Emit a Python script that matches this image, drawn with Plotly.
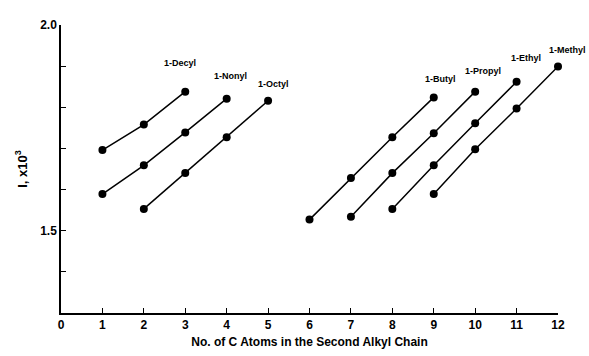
import plotly.graph_objects as go

series_names = ["1-Decyl", "1-Nonyl", "1-Octyl", "1-Butyl", "1-Propyl", "1-Ethyl", "1-Methyl"]
series_x = [
    [1, 2, 3],
    [1, 2, 3, 4],
    [2, 3, 4, 5],
    [6, 7, 8, 9],
    [7, 8, 9, 10],
    [8, 9, 10, 11],
    [9, 10, 11, 12],
]
series_y = [
    [1.696, 1.758, 1.838],
    [1.589, 1.659, 1.739, 1.821],
    [1.553, 1.640, 1.727, 1.816],
    [1.527, 1.628, 1.727, 1.824],
    [1.534, 1.640, 1.737, 1.838],
    [1.553, 1.659, 1.761, 1.862],
    [1.589, 1.698, 1.797, 1.899],
]
x_ticks = list(range(0, 13))
y_ticks = [1.5, 2.0]
y_tick_labels = ["1.5", "2.0"]
y_minor_step = 0.1

# label offsets (pixels) from each series' last point
label_shift = [(-5, 29), (4, 23), (5, 17), (7, 18), (8, 21), (9, 24), (9, 17)]

FAM = "Liberation Sans, Arial"
fig = go.Figure()
for name, xs, ys in zip(series_names, series_x, series_y):
    fig.add_trace(go.Scatter(
        x=xs, y=ys, mode="lines+markers", name=name,
        line=dict(color="black", width=1.5),
        marker=dict(color="black", size=8),
        showlegend=False, cliponaxis=False,
    ))

for name, xs, ys, (dx, dy) in zip(series_names, series_x, series_y, label_shift):
    fig.add_annotation(
        x=xs[-1], y=ys[-1], text=name, showarrow=False,
        xshift=dx, yshift=dy,
        font=dict(family=FAM, size=9, color="black", weight="bold"),
    )

font_main = dict(family=FAM, size=12, color="black", weight="bold")
tick_font = dict(family=FAM, size=12, color="black", weight="bold")
fig.update_layout(
    width=589, height=356,
    margin=dict(l=61, r=31, t=25, b=43),
    plot_bgcolor="white", paper_bgcolor="white",
    font=font_main,
    xaxis=dict(
        range=[0, 12], tickvals=x_ticks, ticktext=[str(v) for v in x_ticks],
        ticks="inside", ticklen=5, tickcolor="black", tickwidth=1,
        showline=True, linecolor="black", linewidth=1.5,
        showgrid=False, zeroline=False, automargin=False,
        title=dict(text="No. of C Atoms in the Second Alkyl Chain", font=font_main, standoff=6),
        tickfont=tick_font,
    ),
    yaxis=dict(
        range=[1.3, 2.0], tickvals=y_ticks, ticktext=y_tick_labels,
        ticks="inside", ticklen=5, tickcolor="black", tickwidth=1,
        minor=dict(tick0=1.5, dtick=y_minor_step, ticks="inside", ticklen=5,
                   tickcolor="black", tickwidth=1, showgrid=False),
        showline=True, linecolor="black", linewidth=1.5,
        showgrid=False, zeroline=False, automargin=False,
        title=dict(text="I, x10<sup>3</sup>", font=dict(family=FAM, size=13, color="black", weight="bold"), standoff=10),
        tickfont=tick_font,
    ),
)

fig.write_html("out.html", config={"displayModeBar": False},
               post_script="document.body.style.margin='0px';")
